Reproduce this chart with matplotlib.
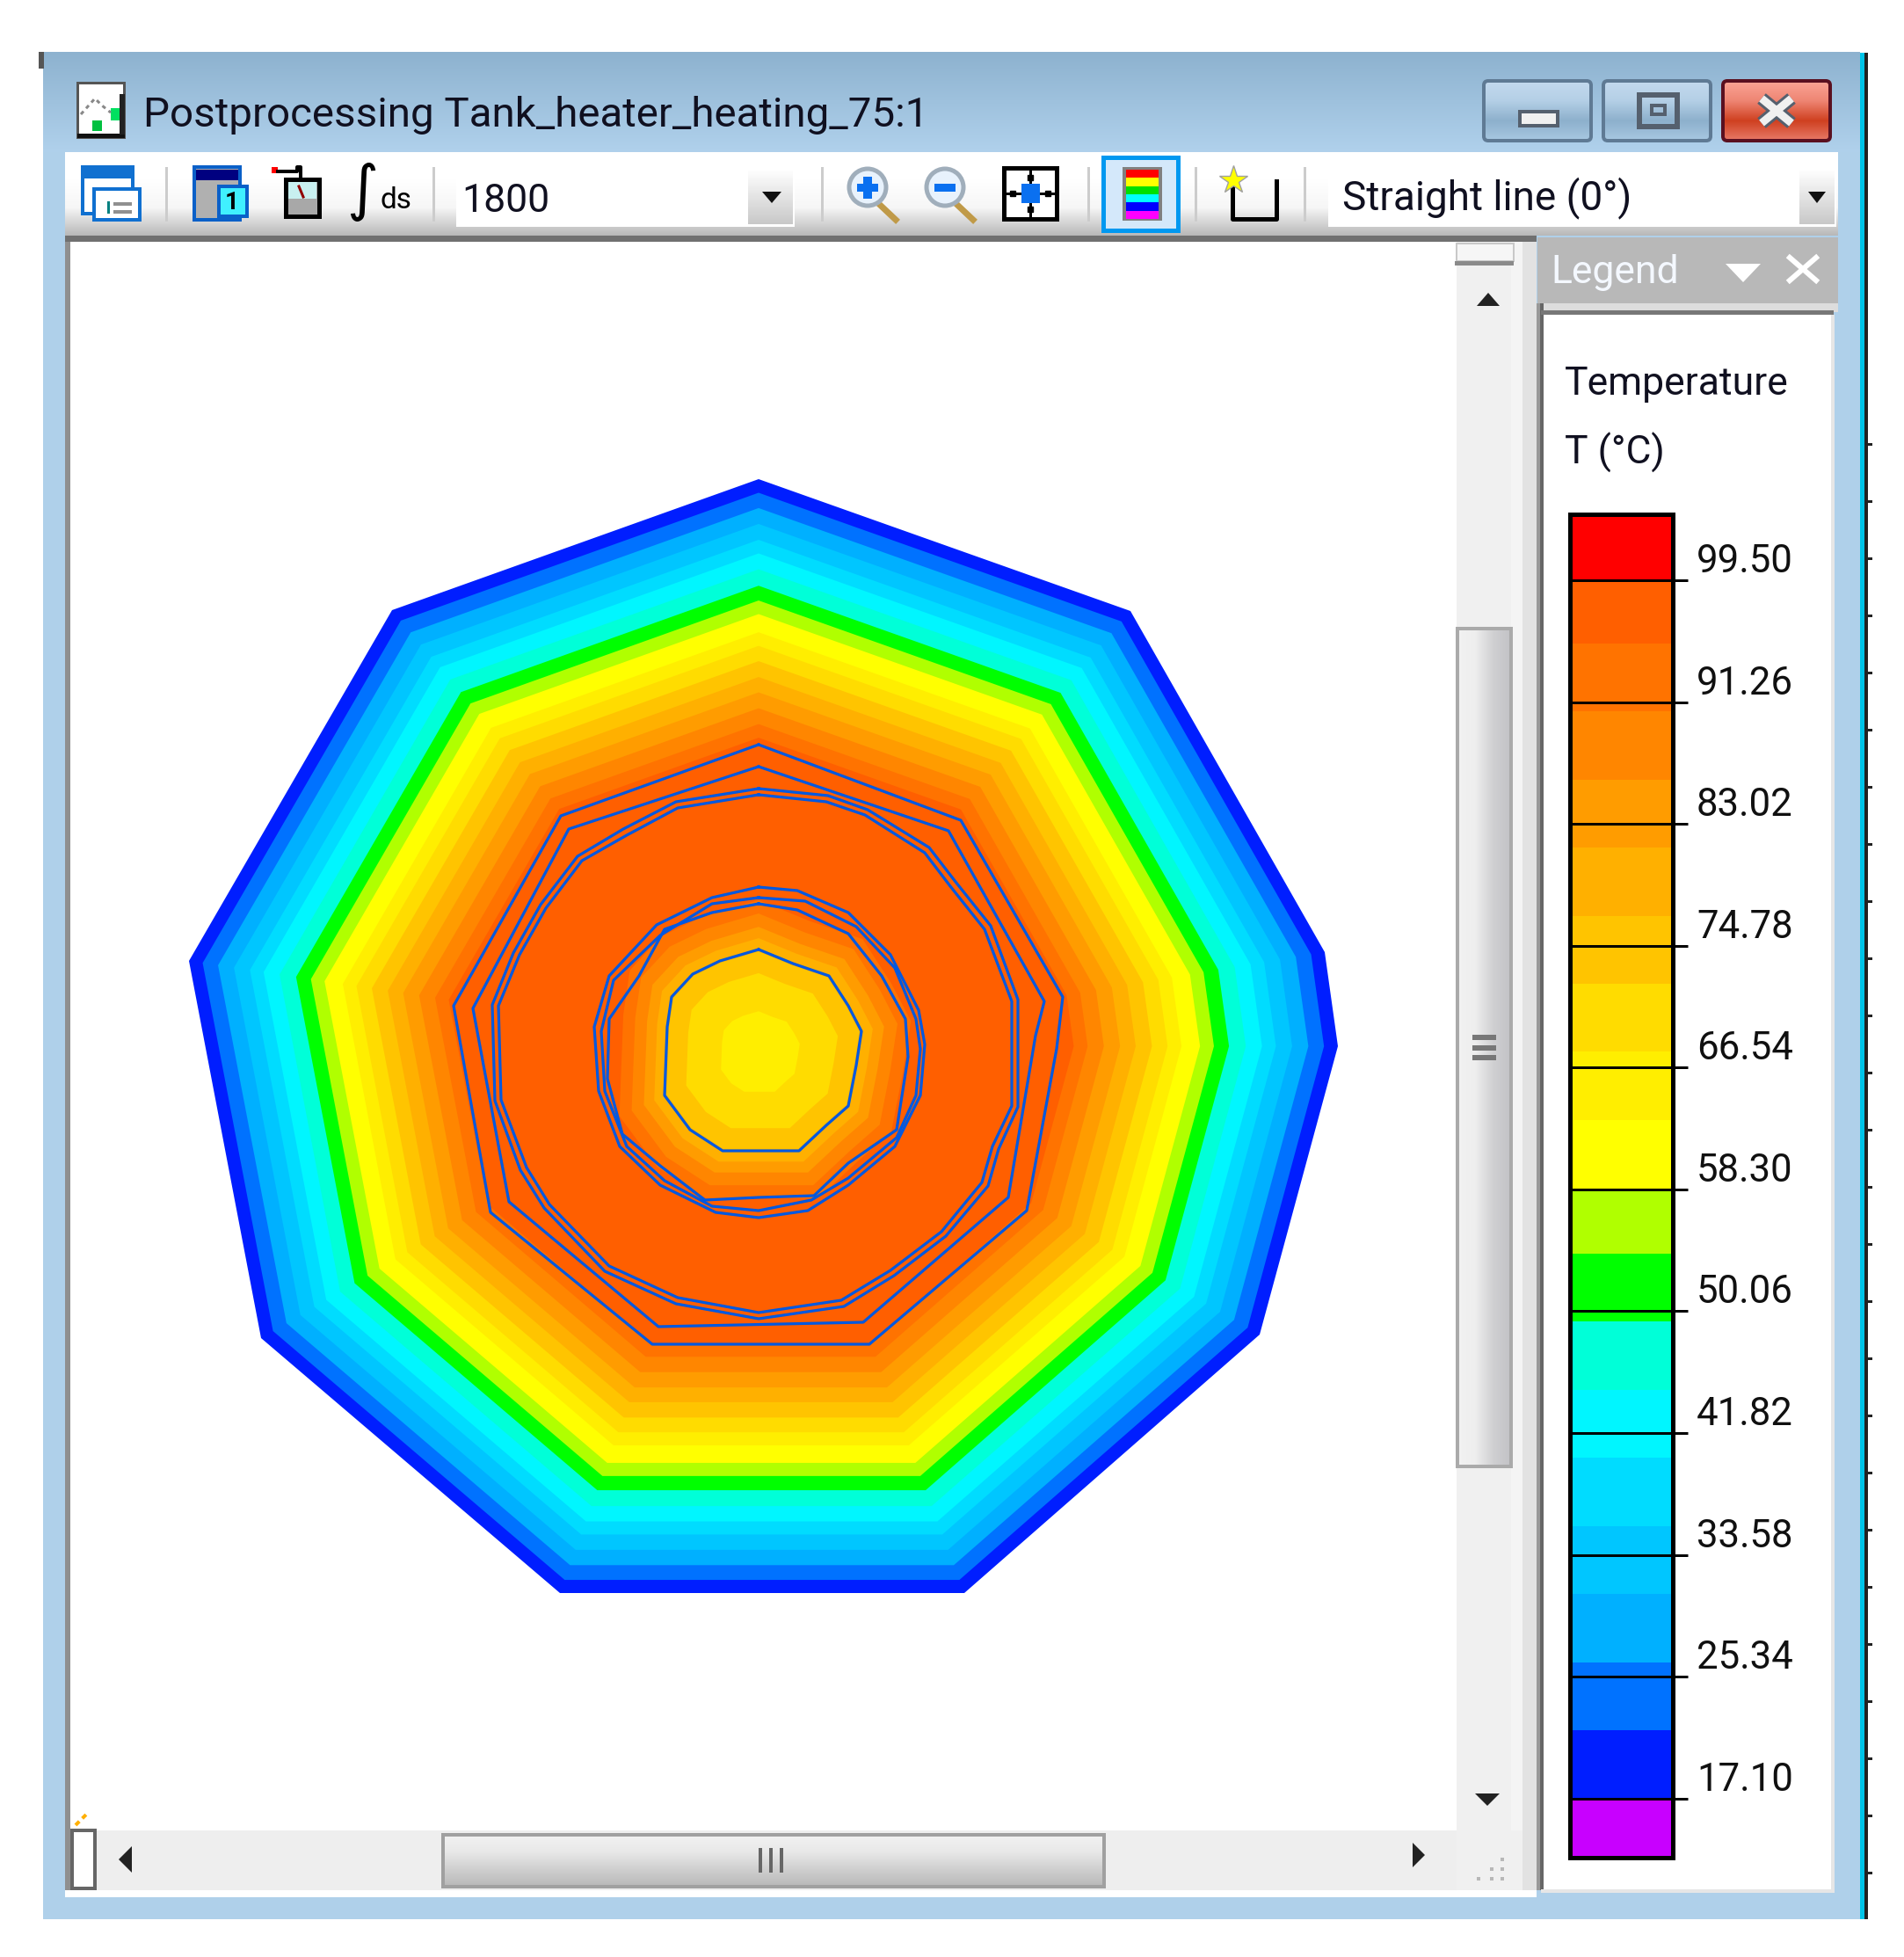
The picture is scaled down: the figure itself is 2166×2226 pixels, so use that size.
import numpy as np
import matplotlib
matplotlib.use('Agg')
import matplotlib.pyplot as plt
from matplotlib.colors import ListedColormap, BoundaryNorm, LinearSegmentedColormap
from matplotlib.patches import Rectangle, Circle, FancyBboxPatch, Polygon

W, H = 2166, 2226

# legend bands, temperature in deg C, low to high
BAND_EDGES = [13.1, 17.10, 21.71, 26.32, 30.93, 35.54, 40.15, 44.76, 49.37, 53.98, 58.30,
              63.0, 67.6, 72.2, 76.8, 81.41, 86.02, 90.63, 95.24, 99.50, 103.96]
BAND_COLORS = ['#c800ff', '#001eff', '#0072ff', '#00b0ff', '#00c6ff', '#00dcff', '#00f6ff',
               '#00ffd8', '#00ff00', '#b0ff00', '#ffff00', '#ffee00', '#ffdc00', '#ffc400',
               '#ffb000', '#ff9c00', '#ff8600', '#ff7300', '#ff5f00', '#ff0000']
TICK_VALUES = [17.10, 25.34, 33.58, 41.82, 50.06, 58.30, 66.54, 74.78, 83.02, 91.26, 99.50]
TICK_LABELS = ['17.10', '25.34', '33.58', '41.82', '50.06', '58.30', '66.54', '74.78', '83.02', '91.26', '99.50']

# tank outline, picture pixels
OUTLINE_X = [863, 1286, 1507, 1522, 1433, 1097, 637, 297, 215, 446]
OUTLINE_Y = [545, 695, 1083, 1190, 1518, 1812, 1812, 1522, 1093, 694]
CENTER = (863, 1190)
# rings from the wall inwards: relative size and temperature
OUTER_SCALE = [1.0, .976, .949, .921, .893, .869, .841, .812, .786, .762, .730, .706, .679,
               .651, .624, .596, .568, .544]
OUTER_T = [19, 24, 28, 33, 38, 42, 47, 52, 56, 60, 65, 70, 74, 79, 84, 88, 93, 97]

# heater core, same idea around the innermost contour
CORE_CENTER = (863, 1197)
CORE_SCALE = [1.48, 1.35, 1.22, 1.11, .98, .77, .40]
CORE_T = [93, 88, 84, 79, 74, 70, 65]

# blue element edges, picture pixels
CONTOUR_X = [
    [863, 1093, 1209, 1202, 1168, 989, 742, 558, 516, 638],
    [863, 1079, 1188, 1178, 1147, 982, 749, 579, 538, 647],
    [863, 940, 984, 1052, 1081, 1120, 1151, 1151, 1129, 1117, 1071, 1013, 957, 863, 771, 693, 625,
     599, 570, 567, 591, 621, 662, 713, 771],
    [863, 942, 987, 1057, 1087, 1127, 1158, 1158, 1136, 1124, 1076, 1017, 960, 863, 769, 688, 619,
     592, 563, 560, 584, 615, 657, 709, 769],
    [863, 907, 965, 1013, 1045, 1052, 1047, 1018, 965, 919, 863, 814, 751, 705, 681, 676, 693, 747, 810],
    [863, 916, 974, 1018, 1042, 1047, 1042, 1020, 965, 923, 863, 810, 756, 713, 688, 684, 698, 751, 810],
    [863, 907, 965, 1003, 1030, 1033, 1020, 965, 926, 863, 802, 751, 708, 691, 693, 727, 756, 810],
    [863, 902, 943, 965, 980, 974, 965, 940, 909, 822, 785, 756, 759, 764, 788, 819],
]
CONTOUR_Y = [
    [847, 933, 1134, 1193, 1377, 1529, 1529, 1379, 1144, 928],
    [872, 945, 1139, 1178, 1362, 1504, 1509, 1367, 1147, 943],
    [904, 912, 927, 970, 1008, 1057, 1139, 1258, 1304, 1345, 1401, 1445, 1479, 1493, 1476, 1440, 1370,
     1328, 1251, 1144, 1086, 1033, 979, 950, 919],
    [897, 905, 921, 964, 1003, 1053, 1137, 1259, 1307, 1349, 1406, 1451, 1486, 1500, 1483, 1446, 1374,
     1331, 1252, 1143, 1084, 1029, 974, 943, 912],
    [1009, 1013, 1038, 1086, 1149, 1188, 1246, 1304, 1348, 1377, 1385, 1379, 1348, 1304, 1241, 1168, 1110, 1052, 1021],
    [1021, 1025, 1054, 1101, 1159, 1193, 1246, 1294, 1340, 1365, 1377, 1372, 1343, 1304, 1241, 1173, 1115, 1064, 1028],
    [1028, 1035, 1062, 1110, 1159, 1202, 1285, 1323, 1360, 1362, 1365, 1326, 1290, 1227, 1159, 1110, 1057, 1038],
    [1080, 1096, 1110, 1144, 1173, 1212, 1258, 1280, 1309, 1309, 1285, 1246, 1168, 1134, 1108, 1093],
]

cmap = ListedColormap(BAND_COLORS)
norm = BoundaryNorm(BAND_EDGES, cmap.N)
FONT = 'Roboto'


def px(v):
    return v * 72 / 100


def grad(ax, x0, y0, x1, y1, stops, horizontal=False, zorder=1):
    cm = LinearSegmentedColormap.from_list('g', stops)
    z = np.linspace(0, 1, 256)
    z = z[None, :] if horizontal else z[:, None]
    ax.imshow(z, extent=(x0, x1, y1, y0), cmap=cm, aspect='auto', zorder=zorder, interpolation='bilinear')


def box(ax, x0, y0, x1, y1, color, zorder=2, **kw):
    ax.add_patch(Rectangle((x0, y0), x1 - x0, y1 - y0, facecolor=color, edgecolor=kw.pop('edge', 'none'),
                           linewidth=kw.pop('lw', 0), zorder=zorder, **kw))


def tri(ax, pts, color='#222222', zorder=4):
    ax.add_patch(Polygon(pts, closed=True, facecolor=color, edgecolor='none', zorder=zorder))


def draw_window(ax):
    box(ax, 49, 59, 2116, 2183, '#afd0ea', zorder=0)
    grad(ax, 49, 59, 2116, 173, ['#8db2cf', '#b0d1ec'])
    box(ax, 44, 59, 50, 78, '#555555')
    # right edge of the screenshot
    box(ax, 2116, 60, 2121, 2183, '#00c4e8')
    box(ax, 2121, 60, 2125, 2183, '#222222')
    for y in range(505, 2183, 65):
        box(ax, 2125, y - 1, 2130, y + 2, '#222222')

    # caption buttons
    for x0, x1, stops, edge in [(1688, 1810, ['#c4daee', '#b4cfe6', '#8db0cc', '#a8c8e2'], '#5f7a94'),
                                (1824, 1946, ['#c4daee', '#b4cfe6', '#8db0cc', '#a8c8e2'], '#5f7a94'),
                                (1960, 2082, ['#fba596', '#ee8573', '#cf4020', '#e87a68'], '#5a1020')]:
        grad(ax, x0, 92, x1, 160, stops, zorder=2)
        ax.add_patch(FancyBboxPatch((x0, 92), x1 - x0, 68, boxstyle='round,pad=0,rounding_size=5',
                                    facecolor='none', edgecolor=edge, linewidth=px(4), zorder=3))
    box(ax, 1729, 127, 1772, 143, '#f0f0f0', edge='#55606e', lw=px(4), zorder=4)
    box(ax, 1865, 108, 1908, 144, 'none', edge='#55606e', lw=px(6), zorder=4)
    box(ax, 1879, 120, 1894, 130, 'none', edge='#55606e', lw=px(4), zorder=4)
    for a, b in [((2004, 2038), (112, 140)), ((2038, 2004), (112, 140))]:
        ax.plot(a, b, color='#55606e', lw=px(15), zorder=4, solid_capstyle='butt')
        ax.plot(a, b, color='#f0f0f0', lw=px(9), zorder=5, solid_capstyle='butt')

    ax.text(163, 131, 'Postprocessing Tank_heater_heating_75:1', fontsize=34.2, family=FONT,
            color='#101020', va='center', ha='left', zorder=5)
    # document icon
    box(ax, 88, 94, 141, 156, 'white', edge='#555555', lw=px(3), zorder=4)
    box(ax, 88, 152, 142, 157, '#111111', zorder=5)
    box(ax, 136, 107, 142, 153, '#222222', zorder=5)
    box(ax, 126, 123, 136, 137, '#00e060', zorder=6)
    box(ax, 105, 137, 116, 149, '#00c040', zorder=6)
    ax.plot([92, 108, 116, 126], [130, 112, 120, 128], color='#888888', lw=px(3), ls=(0, (1.5, 1.5)), zorder=6)


def draw_toolbar(ax):
    grad(ax, 74, 173, 2091, 268, ['#ffffff', '#ffffff', '#f6f6f6', '#b8b8b8'])
    box(ax, 74, 268, 1748, 275, '#707070', zorder=3)
    for x in [189, 493, 935, 1238, 1360, 1484]:
        box(ax, x - 1, 190, x + 2, 252, '#cccccc', zorder=3)

    # combo boxes
    box(ax, 519, 173, 904, 258, 'white', zorder=3)
    grad(ax, 851, 193, 902, 255, ['#ffffff', '#c8c8c8'], zorder=4)
    tri(ax, [(867, 218), (889, 218), (878, 231)], '#111111', zorder=5)
    ax.text(525, 229, '1800', fontsize=32, family=FONT, color='#101020', va='center', zorder=5)
    box(ax, 1511, 173, 2089, 258, 'white', zorder=3)
    grad(ax, 2047, 193, 2087, 255, ['#ffffff', '#c8c8c8'], zorder=4)
    tri(ax, [(2057, 218), (2077, 218), (2067, 231)], '#111111', zorder=5)
    ax.text(1527, 225, 'Straight line (0°)', fontsize=33, family=FONT, color='#101020', va='center', zorder=5)

    # window icon
    box(ax, 94, 190, 151, 243, 'white', edge='#1070d0', lw=px(4), zorder=4)
    box(ax, 94, 190, 151, 203, '#1070d0', zorder=4)
    box(ax, 107, 215, 159, 250, 'white', edge='#1070d0', lw=px(4), zorder=5)
    box(ax, 122, 229, 125, 243, '#008080', zorder=6)
    box(ax, 129, 230, 150, 234, '#909090', zorder=6)
    box(ax, 129, 239, 150, 243, '#909090', zorder=6)
    # table icon
    box(ax, 221, 190, 273, 250, '#b0b0b0', edge='#0a60c8', lw=px(4), zorder=4)
    box(ax, 223, 193, 271, 205, '#000080', zorder=5)
    box(ax, 249, 212, 281, 246, '#40f0ff', edge='#0a60c8', lw=px(4), zorder=5)
    ax.text(264, 230, '1', fontsize=20, family=FONT, weight='bold', color='black', ha='center', va='center', zorder=6)
    # probe icon
    box(ax, 309, 190, 316, 197, '#ff0000', zorder=4)
    ax.plot([316, 338, 338, 342, 342], [195, 195, 190, 190, 203], color='black', lw=px(4), zorder=4)
    box(ax, 325, 204, 363, 246, '#a8a8a8', edge='black', lw=px(5), zorder=4)
    box(ax, 328, 207, 360, 226, '#c8f0f0', zorder=5)
    ax.plot([340, 345], [212, 224], color='#900000', lw=px(3), zorder=6)
    ax.text(394, 218, '∫', fontsize=50, family='DejaVu Sans', color='black', va='center', zorder=5)
    ax.text(433, 228, 'ds', fontsize=24, family=FONT, color='black', va='center', zorder=5)

    # zoom icons
    for cx, mark in [(987, '+'), (1075, '-')]:
        ax.plot([cx + 14, cx + 32], [233, 250], color='#c09a48', lw=px(7), zorder=4)
        ax.add_patch(Circle((cx, 213), 21, facecolor='#e8f2fc', edgecolor='#a0aebb', linewidth=px(5), zorder=5))
        box(ax, cx - 12, 209, cx + 12, 218, '#0a70f0', zorder=6)
        if mark == '+':
            box(ax, cx - 5, 201, cx + 5, 226, '#0a70f0', zorder=6)
    # fit icon
    box(ax, 1142, 191, 1202, 249, 'white', edge='black', lw=px(5), zorder=4)
    ax.plot([1172, 1172], [191, 249], color='black', lw=px(3), zorder=5)
    ax.plot([1142, 1202], [220, 220], color='black', lw=px(3), zorder=5)
    ax.plot([1172, 1172, 1152, 1192], [202, 238, 220, 220], ls='none', marker='s', ms=5, color='black', zorder=5)
    box(ax, 1162, 209, 1183, 231, '#0a70f0', zorder=6)
    # legend toggle
    box(ax, 1255, 179, 1340, 262, '#d4e8fa', edge='#0098f0', lw=px(5), zorder=4)
    box(ax, 1277, 190, 1322, 251, '#808080', zorder=5)
    toggle = ['#ff0000', '#ffff00', '#00e000', '#00ffff', '#0000ff', '#ff00ff']
    for i, c in enumerate(toggle):
        box(ax, 1281, 193 + i * 9.3, 1318, 193 + (i + 1) * 9.3, c, zorder=6)
    # line tool
    ax.plot([1402, 1402, 1452, 1452], [206, 249, 249, 206], color='black', lw=px(5), zorder=4)
    ax.plot([1403], [205], marker='*', ms=24, color='#ffff00', mec='#a0a0a0', mew=1, zorder=5)


def draw_scrollbars(ax):
    # vertical bar
    box(ax, 1655, 275, 1719, 2082, '#f0f0f0', zorder=2)
    box(ax, 1719, 268, 1732, 2153, '#f4f4f4', zorder=2)
    box(ax, 1732, 268, 1748, 2153, '#e2e2e2', zorder=2)
    box(ax, 1748, 345, 1752, 2150, '#999999', zorder=3)
    box(ax, 1752, 345, 1756, 2150, '#666666', zorder=3)
    box(ax, 1657, 277, 1722, 297, '#f6f6f6', edge='#c8c8c8', lw=px(2), zorder=3)
    box(ax, 1655, 297, 1722, 302, '#8a8a8a', zorder=3)
    grad(ax, 1658, 715, 1719, 1668, ['#f2f2f2', '#eeeeee', '#d0d0d2', '#c2c2c6'], horizontal=True, zorder=3)
    box(ax, 1658, 715, 1719, 1668, 'none', edge='#aaaaaa', lw=px(4), zorder=4)
    for y in [1180, 1192, 1203]:
        box(ax, 1675, y - 3, 1702, y + 3, '#777777', zorder=5)
    tri(ax, [(1680, 348), (1706, 348), (1693, 333)])
    tri(ax, [(1678, 2040), (1706, 2040), (1692, 2054)])

    # horizontal bar
    box(ax, 80, 2082, 1657, 2150, '#eeeeee', zorder=2)
    box(ax, 74, 2150, 1748, 2158, '#ffffff', zorder=2)
    box(ax, 1657, 2082, 1732, 2150, '#f0f0f0', zorder=2)
    grad(ax, 504, 2087, 1256, 2146, ['#f2f2f2', '#e8e8e8', '#cfcfcf', '#b8b8b8'], zorder=3)
    box(ax, 504, 2087, 1256, 2146, 'none', edge='#a0a0a0', lw=px(4), zorder=4)
    for x in [865, 877, 889]:
        box(ax, x - 2, 2102, x + 2, 2130, '#666666', zorder=5)
    box(ax, 82, 2082, 108, 2148, 'white', edge='#666666', lw=px(4), zorder=3)
    tri(ax, [(150, 2100), (150, 2130), (135, 2115)])
    tri(ax, [(1607, 2096), (1607, 2124), (1621, 2110)])
    ax.plot([86, 101], [2076, 2061], color='#ffb000', lw=px(4), ls=(0, (1.5, 1.2)), zorder=3)
    for x, y in [(1709, 2115), (1697, 2126), (1709, 2126), (1682, 2137), (1697, 2137), (1709, 2137)]:
        box(ax, x - 2, y - 2, x + 2, y + 2, '#b8b8b8', zorder=4)


def draw_legend_panel(ax):
    box(ax, 1749, 270, 2091, 345, '#b8b8b8', zorder=2)
    box(ax, 1749, 345, 2091, 355, '#dddddd', zorder=2)
    box(ax, 1753, 353, 2086, 2153, 'white', zorder=2)
    box(ax, 1753, 353, 2086, 358, '#777777', zorder=3)
    box(ax, 2083, 358, 2087, 2153, '#e6e6e6', zorder=3)
    box(ax, 1753, 2149, 2087, 2153, '#e6e6e6', zorder=3)
    ax.text(1764, 310, 'Legend', fontsize=32, family=FONT, color='#f4f8ff', va='center', zorder=4)
    tri(ax, [(1963, 300), (2003, 300), (1983, 321)], 'white')
    ax.plot([2036, 2066], [293, 319], color='white', lw=px(6), zorder=4)
    ax.plot([2066, 2036], [293, 319], color='white', lw=px(6), zorder=4)
    ax.text(1780, 437, 'Temperature', fontsize=32, family=FONT, color='#101020', va='center', zorder=4)
    ax.text(1780, 515, 'T (°C)', fontsize=32, family=FONT, color='#101020', va='center', zorder=4)


def draw_map(ax):
    # canvas
    box(ax, 74, 275, 1657, 2082, 'white', zorder=2)
    box(ax, 74, 275, 80, 2150, '#8f8f8f', zorder=3)

    ox, oy = np.array(OUTLINE_X, float), np.array(OUTLINE_Y, float)
    for s, t in zip(OUTER_SCALE, OUTER_T):
        ax.fill(CENTER[0] + s * (ox - CENTER[0]), CENTER[1] + s * (oy - CENTER[1]),
                color=cmap(norm(t)), lw=0, zorder=5)
    # fills the gap between the last ring and the rounder contour
    ax.fill(CONTOUR_X[3], CONTOUR_Y[3], color=cmap(norm(97)), lw=0, zorder=5)
    cx, cy = np.array(CONTOUR_X[-1], float), np.array(CONTOUR_Y[-1], float)
    for s, t in zip(CORE_SCALE, CORE_T):
        ax.fill(CORE_CENTER[0] + s * (cx - CORE_CENTER[0]), CORE_CENTER[1] + s * (cy - CORE_CENTER[1]),
                color=cmap(norm(t)), lw=0, zorder=6)
    for xs, ys in zip(CONTOUR_X, CONTOUR_Y):
        ax.plot(xs + xs[:1], ys + ys[:1], color='#0058e0', lw=px(3.2), zorder=7)


def draw_colorbar(fig):
    # bar position in picture pixels
    x0, x1, y0, y1 = 1786, 1903, 585, 2113
    cax = fig.add_axes([x0 / W, 1 - y1 / H, (x1 - x0) / W, (y1 - y0) / H], zorder=5)
    vals = [(a + b) / 2 for a, b in zip(BAND_EDGES[:-1], BAND_EDGES[1:])]
    cax.pcolormesh([0, 1], BAND_EDGES, np.array(vals)[:, None], cmap=cmap, norm=norm)
    cax.set_ylim(BAND_EDGES[0], BAND_EDGES[-1])
    cax.set_xticks([])
    cax.hlines(TICK_VALUES, 0, 1, color='black', lw=px(3))
    cax.yaxis.tick_right()
    cax.set_yticks(TICK_VALUES)
    cax.set_yticklabels(TICK_LABELS, family=FONT, fontsize=31.5, color='#101010', va='bottom')
    cax.tick_params(axis='y', length=px(17), width=px(3), pad=px(10))
    for sp in cax.spines.values():
        sp.set_linewidth(px(5))


def main():
    fig = plt.figure(figsize=(W / 100, H / 100), dpi=100, facecolor='white')
    ax = fig.add_axes([0, 0, 1, 1])
    ax.axis('off')

    draw_window(ax)
    draw_toolbar(ax)
    draw_scrollbars(ax)
    draw_map(ax)
    draw_legend_panel(ax)

    ax.set_xlim(0, W)
    ax.set_ylim(H, 0)

    draw_colorbar(fig)
    fig.savefig('out.png', dpi=100)


if __name__ == '__main__':
    main()
